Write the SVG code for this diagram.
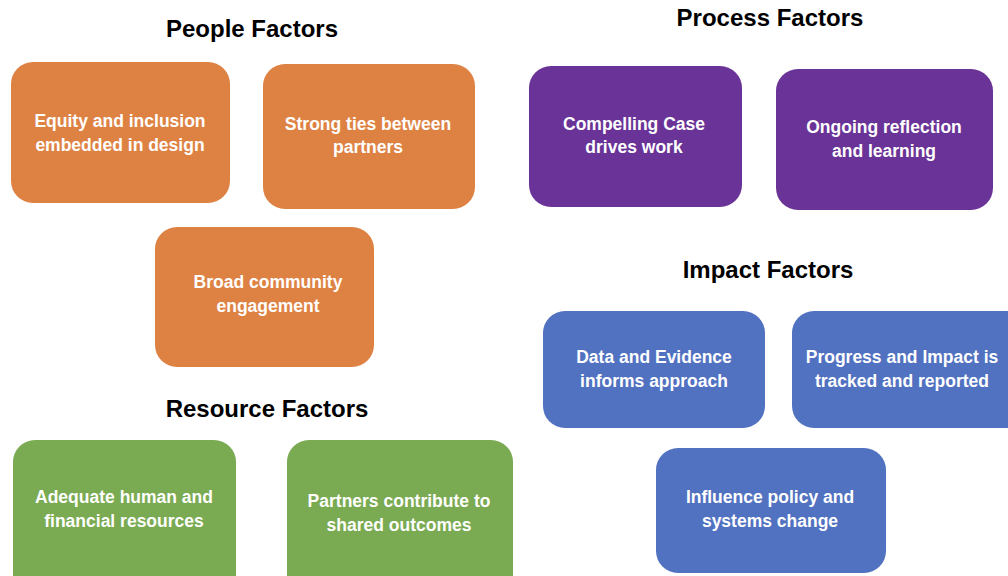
<svg xmlns="http://www.w3.org/2000/svg" width="1008" height="576" viewBox="0 0 1008 576">
<style>
.title{font-family:"Liberation Sans",Arial,sans-serif;font-weight:bold;font-size:24px;fill:#000;text-anchor:middle}
.lbl{font-family:"Liberation Sans",Arial,sans-serif;font-weight:bold;font-size:17.5px;fill:#fff;text-anchor:middle}
.org{fill:#DE8244}
.pur{fill:#6A3397}
.grn{fill:#7AAA52}
.blu{fill:#5171C1}
</style>
<rect width="1008" height="576" fill="#fff"/>
<g id="titles">
<text class="title" x="252" y="37">People Factors</text>
<text class="title" x="770" y="26">Process Factors</text>
<text class="title" x="768" y="278">Impact Factors</text>
<text class="title" x="267" y="417">Resource Factors</text>
</g>
<g id="connectors"></g>
<g id="n1"><rect class="org" x="11" y="62" width="219" height="141" rx="22"/>
<text class="lbl" x="120" y="127">Equity and inclusion</text><text class="lbl" x="120" y="151">embedded in design</text></g>
<g id="n2"><rect class="org" x="263" y="64" width="212" height="145" rx="22"/>
<text class="lbl" x="368" y="130">Strong ties between</text><text class="lbl" x="368" y="153">partners</text></g>
<g id="n3"><rect class="org" x="155" y="227" width="219" height="140" rx="22"/>
<text class="lbl" x="268" y="288">Broad community</text><text class="lbl" x="268" y="312">engagement</text></g>
<g id="n4"><rect class="pur" x="529" y="66" width="213" height="141" rx="22"/>
<text class="lbl" x="634" y="130">Compelling Case</text><text class="lbl" x="634" y="153">drives work</text></g>
<g id="n5"><rect class="pur" x="776" y="69" width="217" height="141" rx="22"/>
<text class="lbl" x="884" y="133">Ongoing reflection</text><text class="lbl" x="884" y="157">and learning</text></g>
<g id="n6"><rect class="grn" x="13" y="440" width="223" height="160" rx="22"/>
<text class="lbl" x="124" y="503">Adequate human and</text><text class="lbl" x="124" y="527">financial resources</text></g>
<g id="n7"><rect class="grn" x="287" y="440" width="226" height="160" rx="22"/>
<text class="lbl" x="399" y="507">Partners contribute to</text><text class="lbl" x="399" y="531">shared outcomes</text></g>
<g id="n8"><rect class="blu" x="543" y="311" width="222" height="117" rx="22"/>
<text class="lbl" x="654" y="363">Data and Evidence</text><text class="lbl" x="654" y="387">informs approach</text></g>
<g id="n9"><rect class="blu" x="792" y="311" width="236" height="117" rx="22"/>
<text class="lbl" x="902" y="363">Progress and Impact is</text><text class="lbl" x="902" y="387">tracked and reported</text></g>
<g id="n10"><rect class="blu" x="656" y="448" width="230" height="125" rx="22"/>
<text class="lbl" x="770" y="503">Influence policy and</text><text class="lbl" x="770" y="527">systems change</text></g>
</svg>
